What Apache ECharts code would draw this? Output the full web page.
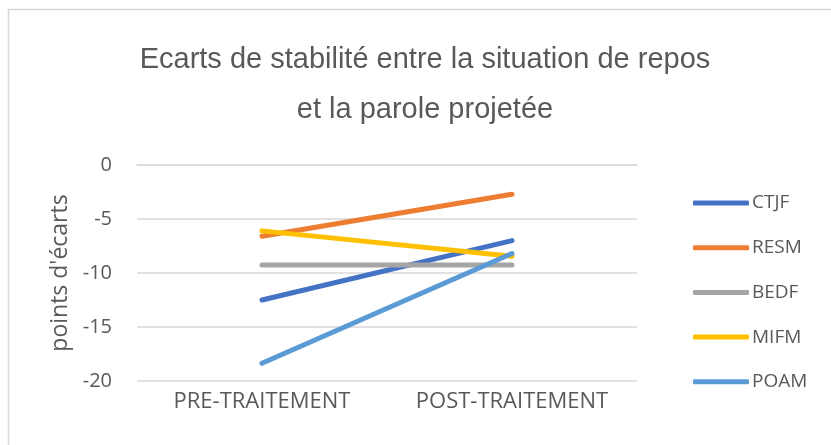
<!DOCTYPE html>
<html>
<head>
<meta charset="utf-8">
<title>Ecarts de stabilité</title>
<script src="https://cdn.jsdelivr.net/npm/echarts@6/dist/echarts.min.js"></script>
<style>
  html, body { margin: 0; padding: 0; background: #ffffff; }
  #chart { width: 831px; height: 445px; }
</style>
</head>
<body>
<div id="chart"></div>
<script>
// Phases of treatment (x axis)
const categories = ['PRE-TRAITEMENT', 'POST-TRAITEMENT'];

// Stability gap per subject, pre vs post treatment
const CTJF = [-12.5, -7.0];
const RESM = [-6.6, -2.7];
const BEDF = [-9.25, -9.25];
const MIFM = [-6.1, -8.45];
const POAM = [-18.35, -8.2];

const seriesNames = ['CTJF', 'RESM', 'BEDF', 'MIFM', 'POAM'];
const seriesValues = [CTJF, RESM, BEDF, MIFM, POAM];
const seriesColors = ['#4472C4', '#ED7D31', '#A5A5A5', '#FFC000', '#5B9BD5'];

// Y axis ticks
const yMin = -20, yMax = 0, yStep = 5;

const textColor = '#595959';
const labelFont = '"Open Sans", Lato, sans-serif';

const chart = echarts.init(document.getElementById('chart'));

chart.setOption({
  animation: false,
  backgroundColor: '#ffffff',
  graphic: [{
    type: 'rect',
    shape: { x: 8.5, y: 9.5, width: 900, height: 500 },
    style: { fill: 'none', stroke: '#d9d9d9', lineWidth: 1.5 },
    silent: true,
    z: -1
  }],
  title: {
    text: 'Ecarts de stabilité entre la situation de repos\net la parole projetée',
    left: 425,
    textAlign: 'center',
    top: 35,
    padding: 0,
    textStyle: {
      fontFamily: '"Liberation Sans", Arial, sans-serif',
      fontSize: 29,
      fontWeight: 'normal',
      color: textColor,
      lineHeight: 50
    }
  },
  legend: {
    orient: 'vertical',
    left: 693,
    top: 191,
    padding: 0,
    itemWidth: 56,
    itemHeight: 5,
    itemGap: 20.7,
    icon: 'roundRect',
    data: seriesNames,
    textStyle: {
      fontFamily: labelFont,
      fontSize: 19,
      color: textColor,
      lineHeight: 24,
      padding: [0, 0, 0, -2]
    }
  },
  grid: {
    left: 137,
    right: 194,
    top: 165,
    bottom: 64,
    containLabel: false
  },
  xAxis: {
    type: 'category',
    data: categories,
    boundaryGap: true,
    axisLine: { show: true, lineStyle: { color: '#d9d9d9', width: 1.5 } },
    axisTick: { show: false },
    axisLabel: {
      interval: 0,
      hideOverlap: false,
      fontFamily: labelFont,
      fontSize: 22,
      color: textColor,
      margin: 10
    }
  },
  yAxis: {
    type: 'value',
    min: yMin,
    max: yMax,
    interval: yStep,
    name: "points d'écarts",
    nameLocation: 'middle',
    nameGap: 63,
    nameRotate: 90,
    nameTextStyle: {
      fontFamily: labelFont,
      fontSize: 23,
      color: textColor
    },
    axisLine: { show: false },
    axisTick: { show: false },
    splitLine: { lineStyle: { color: '#d9d9d9', width: 1.5 } },
    axisLabel: {
      fontFamily: labelFont,
      fontSize: 20,
      color: textColor,
      margin: 25
    }
  },
  series: seriesNames.map((name, i) => ({
    name: name,
    type: 'line',
    data: seriesValues[i],
    symbol: 'none',
    color: seriesColors[i],
    lineStyle: { width: 5, color: seriesColors[i], cap: 'round' },
    z: 2 + i
  }))
});
</script>
</body>
</html>
